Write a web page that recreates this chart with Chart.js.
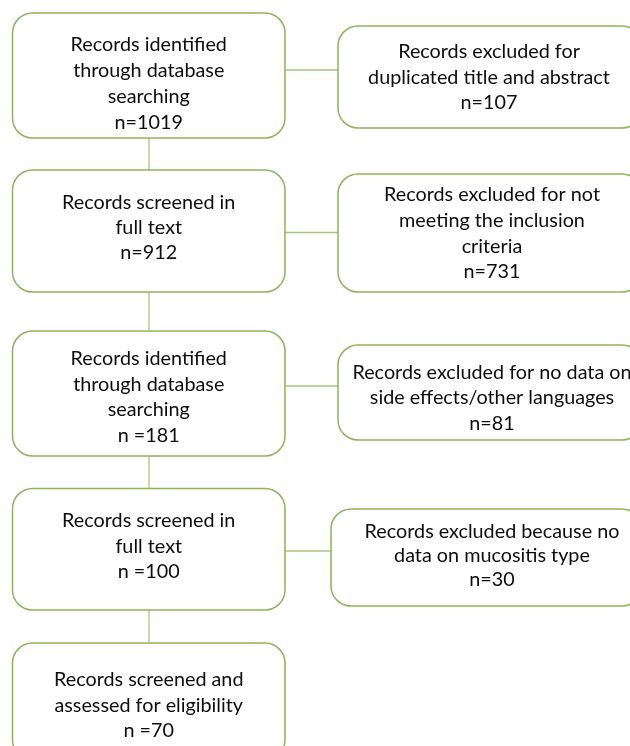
<!DOCTYPE html>
<html>
<head>
<meta charset="utf-8">
<script src="https://cdn.jsdelivr.net/npm/chart.js@4"></script>
<style>
  html, body { margin: 0; padding: 0; background: #ffffff; }
  #wrap { width: 630px; height: 746px; }
</style>
</head>
<body>
<div id="wrap"><canvas id="c" width="630" height="746"></canvas></div>
<script>
// ---- data ----
const stepLabels = [
  ["Records identified", "through database", "searching"],
  ["Records screened in", "full text"],
  ["Records identified", "through database", "searching"],
  ["Records screened in", "full text"],
  ["Records screened and", "assessed for eligibility"]
];
const stepCountPrefix = ["n=", "n=", "n =", "n =", "n ="];
const stepCounts = [1019, 912, 181, 100, 70];

const excludedLabels = [
  ["Records excluded for", "duplicated title and abstract"],
  ["Records excluded for not", "meeting the inclusion", "criteria"],
  ["Records excluded for no data on", "side effects/other languages"],
  ["Records excluded because no", "data on mucositis type"]
];
const excludedCounts = [107, 731, 81, 30];

// ---- layout (chart coordinate space, 0..630 x 0..746) ----
const stepBoxes = [
  { x0: 12.5, x1: 285, y0: 13, y1: 138, textY: [45, 71, 97, 122.5] },
  { x0: 12.5, x1: 285, y0: 170, y1: 292, textY: [203, 228, 253] },
  { x0: 12.5, x1: 285, y0: 331, y1: 456, textY: [359, 384.5, 410, 436] },
  { x0: 12.5, x1: 285, y0: 488.5, y1: 610, textY: [521, 546.5, 572] },
  { x0: 12.5, x1: 285, y0: 643, y1: 760, textY: [680, 705.5, 731] }
];
const excludedBoxes = [
  { x0: 338, x1: 642, y0: 26, y1: 128, cx: 489, textY: [52, 77.5, 103], linkY: 70 },
  { x0: 338, x1: 642, y0: 174, y1: 292, cx: 492, textY: [195, 221, 246.5, 272], linkY: 232.5 },
  { x0: 338, x1: 642, y0: 345, y1: 440, cx: 492, textY: [373, 398, 423.5], linkY: 386 },
  { x0: 331, x1: 642, y0: 509, y1: 606, cx: 492, textY: [532, 556, 580], linkY: 551 }
];
const spineX = 149;

const BORDER = '#8db45a';
const LINK = '#a8c67f';
const TEXT = '#0d0d0d';
const FONT_FAMILY = 'Lato, "Open Sans", sans-serif';
const FONT_SIZE = 19.8;

function roundRect(ctx, x0, y0, x1, y1, r) {
  ctx.beginPath();
  ctx.moveTo(x0 + r, y0);
  ctx.lineTo(x1 - r, y0);
  ctx.arcTo(x1, y0, x1, y0 + r, r);
  ctx.lineTo(x1, y1 - r);
  ctx.arcTo(x1, y1, x1 - r, y1, r);
  ctx.lineTo(x0 + r, y1);
  ctx.arcTo(x0, y1, x0, y1 - r, r);
  ctx.lineTo(x0, y0 + r);
  ctx.arcTo(x0, y0, x0 + r, y0, r);
  ctx.closePath();
}

const flowPlugin = {
  id: 'flow',
  afterDatasetsDraw(chart) {
    const ctx = chart.ctx;
    const sx = chart.scales.x, sy = chart.scales.y;
    const px = v => sx.getPixelForValue(v);
    const py = v => sy.getPixelForValue(v);
    ctx.save();

    // connectors
    ctx.strokeStyle = LINK;
    ctx.lineWidth = 1.3;
    for (let i = 0; i < stepBoxes.length - 1; i++) {
      ctx.beginPath();
      ctx.moveTo(px(spineX), py(stepBoxes[i].y1));
      ctx.lineTo(px(spineX), py(stepBoxes[i + 1].y0));
      ctx.stroke();
    }
    excludedBoxes.forEach((b, i) => {
      ctx.beginPath();
      ctx.moveTo(px(stepBoxes[i].x1), py(b.linkY));
      ctx.lineTo(px(b.x0), py(b.linkY));
      ctx.stroke();
    });

    // boxes
    ctx.strokeStyle = BORDER;
    ctx.lineWidth = 1.5;
    ctx.fillStyle = '#ffffff';
    const drawBox = b => {
      roundRect(ctx, px(b.x0), py(b.y0), px(b.x1), py(b.y1), 20);
      ctx.fill();
      ctx.stroke();
    };
    stepBoxes.forEach(drawBox);
    excludedBoxes.forEach(drawBox);

    // text
    ctx.fillStyle = TEXT;
    ctx.font = FONT_SIZE + 'px ' + FONT_FAMILY;
    ctx.textAlign = 'center';
    ctx.textBaseline = 'middle';
    stepBoxes.forEach((b, i) => {
      const lines = stepLabels[i].concat([stepCountPrefix[i] + stepCounts[i]]);
      const cx = px((b.x0 + b.x1) / 2);
      lines.forEach((t, j) => ctx.fillText(t, cx, py(b.textY[j])));
    });
    excludedBoxes.forEach((b, i) => {
      const lines = excludedLabels[i].concat(['n=' + excludedCounts[i]]);
      lines.forEach((t, j) => ctx.fillText(t, px(b.cx), py(b.textY[j])));
    });
    ctx.restore();
  }
};

new Chart(document.getElementById('c'), {
  type: 'scatter',
  data: { datasets: [{ data: [], pointRadius: 0 }] },
  options: {
    responsive: false,
    animation: false,
    devicePixelRatio: 1,
    layout: { padding: 0 },
    plugins: { legend: { display: false }, tooltip: { enabled: false } },
    scales: {
      x: { type: 'linear', min: 0, max: 630, display: false },
      y: { type: 'linear', min: 0, max: 746, reverse: true, display: false }
    }
  },
  plugins: [flowPlugin]
});
</script>
</body>
</html>
